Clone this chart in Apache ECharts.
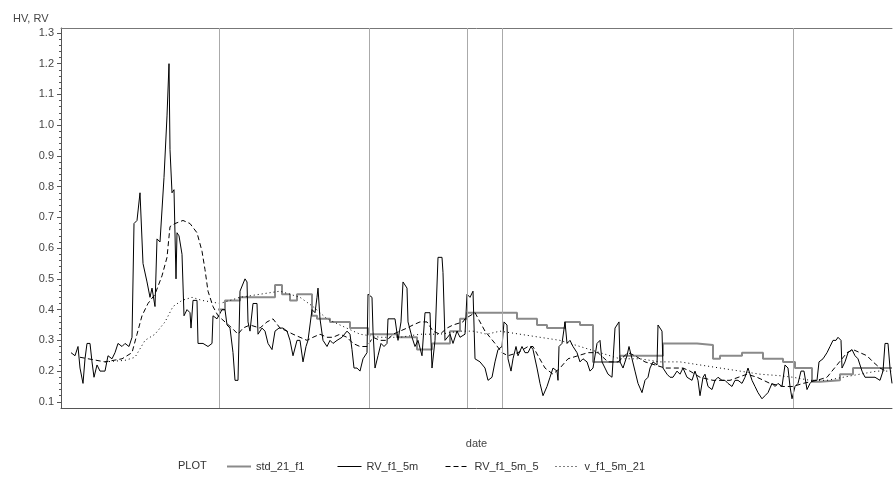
<!DOCTYPE html>
<html lang="en">
<head>
    <meta charset="UTF-8" />
    <title>HV, RV</title>
    <script src="https://cdn.jsdelivr.net/npm/echarts@6/dist/echarts.min.js"></script>
</head>
<body style="margin:0">
    <div id="main" style="width:893px;height:482px;"></div>
    <script type="text/javascript">
        // x = trading day index, y = volatility
        var rvDay = [10, 14, 17, 19, 22, 24, 26, 29, 31, 33, 36, 39, 44, 47, 51, 54, 57, 61, 64, 68, 71, 73, 76, 79, 81, 82, 86, 89, 91, 94, 96, 99, 101, 103, 106, 107, 108, 109, 111, 113, 115, 116, 118, 121, 123, 126, 129, 130, 132, 136, 137, 142, 147, 151, 152, 156, 161, 164, 166, 169, 172, 174, 177, 179, 184, 186, 187, 189, 192, 196, 197, 201, 204, 207, 211, 214, 218, 222, 226, 229, 232, 236, 239, 242, 245, 247, 251, 254, 256, 257, 259, 262, 266, 269, 272, 276, 281, 286, 289, 291, 293, 296, 299, 302, 306, 307, 311, 312, 314, 317, 320, 323, 326, 327, 331, 334, 337, 340, 342, 346, 347, 351, 354, 357, 361, 364, 369, 371, 374, 377, 381, 382, 384, 389, 392, 396, 399, 404, 406, 409, 412, 414, 419, 424, 427, 431, 434, 437, 441, 443, 446, 447, 450, 452, 455, 457, 461, 464, 467, 470, 472, 476, 479, 482, 486, 489, 492, 496, 497, 498, 501, 504, 506, 509, 512, 516, 519, 522, 526, 529, 532, 536, 539, 541, 544, 547, 551, 554, 558, 559, 562, 566, 568, 571, 574, 577, 581, 584, 587, 589, 592, 596, 597, 601, 602, 606, 609, 612, 616, 619, 622, 626, 631, 634, 637, 639, 642, 644, 647, 651, 654, 657, 661, 664, 667, 671, 674, 677, 681, 684, 687, 691, 694, 697, 701, 704, 707, 711, 714, 717, 721, 724, 727, 729, 731, 734, 737, 740, 743, 746, 749, 752, 756, 758, 762, 766, 769, 772, 775, 777, 780, 781, 784, 787, 791, 794, 797, 801, 804, 807, 811, 814, 819, 822, 824, 827, 829, 831];
        var rvVal = [0.26, 0.25, 0.28, 0.21, 0.16, 0.24, 0.29, 0.29, 0.23, 0.18, 0.22, 0.20, 0.20, 0.25, 0.24, 0.26, 0.29, 0.28, 0.29, 0.28, 0.31, 0.68, 0.69, 0.78, 0.78, 0.55, 0.49, 0.44, 0.47, 0.41, 0.63, 0.62, 0.62, 0.83, 1.03, 1.03, 1.20, 0.92, 0.78, 0.79, 0.50, 0.65, 0.64, 0.58, 0.38, 0.40, 0.39, 0.34, 0.43, 0.43, 0.29, 0.29, 0.28, 0.29, 0.38, 0.37, 0.40, 0.40, 0.35, 0.34, 0.26, 0.17, 0.17, 0.46, 0.50, 0.49, 0.36, 0.33, 0.42, 0.42, 0.32, 0.34, 0.33, 0.29, 0.27, 0.33, 0.34, 0.34, 0.33, 0.30, 0.25, 0.30, 0.30, 0.23, 0.28, 0.30, 0.40, 0.39, 0.44, 0.47, 0.37, 0.30, 0.28, 0.30, 0.29, 0.30, 0.31, 0.33, 0.32, 0.27, 0.21, 0.21, 0.20, 0.24, 0.26, 0.45, 0.44, 0.33, 0.21, 0.25, 0.29, 0.28, 0.29, 0.37, 0.37, 0.37, 0.30, 0.36, 0.49, 0.47, 0.36, 0.31, 0.28, 0.30, 0.25, 0.39, 0.39, 0.21, 0.30, 0.57, 0.57, 0.52, 0.30, 0.32, 0.29, 0.33, 0.31, 0.32, 0.45, 0.44, 0.46, 0.24, 0.23, 0.21, 0.17, 0.18, 0.23, 0.27, 0.28, 0.36, 0.35, 0.24, 0.20, 0.24, 0.28, 0.25, 0.28, 0.26, 0.26, 0.28, 0.27, 0.21, 0.16, 0.12, 0.15, 0.18, 0.21, 0.20, 0.17, 0.28, 0.29, 0.36, 0.29, 0.30, 0.28, 0.26, 0.23, 0.24, 0.23, 0.20, 0.21, 0.29, 0.30, 0.23, 0.21, 0.19, 0.18, 0.34, 0.36, 0.23, 0.21, 0.25, 0.28, 0.24, 0.20, 0.16, 0.13, 0.17, 0.18, 0.21, 0.23, 0.22, 0.35, 0.33, 0.21, 0.19, 0.18, 0.18, 0.20, 0.19, 0.21, 0.18, 0.17, 0.20, 0.17, 0.12, 0.18, 0.19, 0.15, 0.14, 0.17, 0.18, 0.17, 0.17, 0.16, 0.15, 0.17, 0.17, 0.16, 0.18, 0.21, 0.17, 0.15, 0.13, 0.11, 0.12, 0.13, 0.16, 0.15, 0.16, 0.15, 0.22, 0.21, 0.15, 0.11, 0.15, 0.16, 0.20, 0.20, 0.14, 0.16, 0.17, 0.17, 0.23, 0.24, 0.26, 0.28, 0.30, 0.30, 0.31, 0.30, 0.21, 0.23, 0.26, 0.27, 0.25, 0.24, 0.20, 0.18, 0.18, 0.18, 0.18, 0.17, 0.20, 0.29, 0.29, 0.21, 0.16];

        var rv5Day = [19, 44, 61, 71, 76, 81, 87, 94, 101, 106, 109, 114, 122, 129, 136, 141, 144, 147, 152, 157, 164, 171, 177, 182, 189, 199, 206, 212, 219, 226, 232, 239, 246, 252, 259, 266, 272, 279, 286, 292, 299, 306, 312, 319, 326, 332, 339, 346, 352, 359, 366, 372, 379, 386, 392, 402, 404, 414, 424, 434, 441, 447, 457, 467, 472, 477, 484, 492, 499, 507, 517, 527, 537, 547, 557, 567, 574, 584, 594, 604, 614, 622, 629, 639, 652, 669, 686, 696, 709, 722, 732, 742, 756, 766, 776, 786, 792, 799, 806, 812, 819, 825];
        var rv5Val = [0.245, 0.23, 0.24, 0.26, 0.32, 0.38, 0.42, 0.45, 0.51, 0.57, 0.67, 0.68, 0.69, 0.68, 0.65, 0.59, 0.53, 0.46, 0.41, 0.38, 0.36, 0.34, 0.32, 0.34, 0.35, 0.34, 0.36, 0.37, 0.34, 0.33, 0.32, 0.31, 0.30, 0.31, 0.32, 0.31, 0.31, 0.32, 0.31, 0.29, 0.28, 0.28, 0.31, 0.30, 0.30, 0.32, 0.33, 0.34, 0.35, 0.36, 0.36, 0.33, 0.32, 0.34, 0.35, 0.36, 0.37, 0.39, 0.33, 0.29, 0.26, 0.25, 0.26, 0.28, 0.28, 0.25, 0.21, 0.19, 0.21, 0.24, 0.25, 0.26, 0.26, 0.23, 0.23, 0.26, 0.25, 0.23, 0.22, 0.21, 0.21, 0.21, 0.20, 0.18, 0.17, 0.17, 0.19, 0.18, 0.16, 0.15, 0.15, 0.16, 0.17, 0.18, 0.22, 0.26, 0.27, 0.26, 0.25, 0.23, 0.21, 0.20];

        var rv21Day = [44, 64, 74, 84, 94, 104, 112, 121, 131, 141, 159, 179, 199, 219, 239, 252, 266, 279, 299, 319, 339, 359, 379, 399, 412, 426, 439, 459, 479, 499, 519, 539, 559, 579, 599, 619, 639, 659, 679, 699, 719, 732, 749, 766, 782, 799, 816, 831];
        var rv21Val = [0.23, 0.235, 0.245, 0.30, 0.32, 0.36, 0.41, 0.43, 0.44, 0.43, 0.42, 0.44, 0.45, 0.46, 0.44, 0.41, 0.37, 0.35, 0.32, 0.31, 0.31, 0.32, 0.32, 0.33, 0.33, 0.32, 0.33, 0.32, 0.31, 0.30, 0.28, 0.26, 0.24, 0.24, 0.23, 0.23, 0.22, 0.21, 0.20, 0.19, 0.185, 0.18, 0.17, 0.17, 0.18, 0.19, 0.20, 0.20];

        var stdDay = [157, 164, 179, 214, 221, 229, 236, 251, 256, 269, 289, 307, 336, 356, 371, 389, 399, 406, 456, 476, 486, 504, 519, 532, 559, 602, 636, 652, 659, 681, 702, 722, 734, 751, 759, 779, 792, 831];
        var stdVal = [0.40, 0.43, 0.44, 0.48, 0.45, 0.43, 0.45, 0.38, 0.37, 0.36, 0.34, 0.32, 0.31, 0.27, 0.29, 0.33, 0.37, 0.39, 0.37, 0.35, 0.34, 0.36, 0.35, 0.23, 0.25, 0.29, 0.285, 0.24, 0.25, 0.26, 0.24, 0.23, 0.21, 0.165, 0.17, 0.19, 0.21, 0.21];

        var refDays = [158, 308, 406, 441, 732]; // vertical reference lines
        var yTicks = [0.1, 0.2, 0.3, 0.4, 0.5, 0.6, 0.7, 0.8, 0.9, 1.0, 1.1, 1.2, 1.3];
        var names = ['std_21_f1', 'RV_f1_5m', 'RV_f1_5m_5', 'v_f1_5m_21'];

        function pairs(xs, ys) {
            var out = [];
            for (var i = 0; i < xs.length; i++) out.push([xs[i], ys[i]]);
            return out;
        }
        var minorTicks = [];
        for (var k = 5; k <= 65; k++) minorTicks.push(+(k * 0.02).toFixed(2));

        var font = 'Liberation Sans, Arial, sans-serif';
        var chart = echarts.init(document.getElementById('main'));
        var legendX = [226, 337, 445, 555];
        var legendW = [2, 1, 1, 1];
        var legends = [];
        for (var j = 0; j < names.length; j++) {
            legends.push({
                data: [names[j]],
                left: legendX[j],
                top: 461,
                padding: 0,
                itemWidth: 24,
                itemHeight: 10,
                itemGap: 5,
                selectedMode: false,
                itemStyle: { opacity: 0 }, // hide the symbol, keep the line
                lineStyle: { width: legendW[j] },
                textStyle: { fontFamily: font, fontSize: 11, color: '#333' }
            });
        }

        var option = {
            animation: false,
            title: {
                text: 'HV, RV',
                left: 8,
                top: 8,
                textStyle: { fontFamily: font, fontSize: 11, fontWeight: 'normal', color: '#444' }
            },
            graphic: [{
                type: 'text',
                left: 178,
                top: 460,
                style: { text: 'PLOT', font: '11px ' + font, fill: '#333' }
            }],
            legend: legends,
            grid: { left: 61, right: 1, top: 28, bottom: 74, containLabel: false },
            xAxis: [{
                type: 'value',
                min: 0,
                max: 831,
                name: 'date',
                nameLocation: 'middle',
                nameGap: 30,
                nameTextStyle: { fontFamily: font, fontSize: 11, color: '#444' },
                axisLine: { lineStyle: { color: '#555' } },
                axisTick: { show: false },
                axisLabel: { show: false },
                splitLine: { show: false }
            }, {
                type: 'value',
                position: 'top',
                min: 0,
                max: 831,
                axisLine: { show: true, lineStyle: { color: '#777' } },
                axisTick: { show: false },
                axisLabel: { show: false },
                splitLine: { show: false }
            }],
            yAxis: [{
                type: 'value',
                min: 0.08,
                max: 1.316,
                axisLine: { show: true, lineStyle: { color: '#555' } },
                axisTick: { show: true, customValues: yTicks, length: 4, lineStyle: { color: '#555' } },
                axisLabel: {
                    customValues: yTicks,
                    margin: 7,
                    fontFamily: font,
                    fontSize: 11,
                    color: '#444',
                    formatter: function (v) { return v.toFixed(1); }
                },
                splitLine: { show: false }
            }, {
                type: 'value',
                position: 'left',
                min: 0.08,
                max: 1.316,
                axisLine: { show: false },
                axisTick: { show: true, customValues: minorTicks, length: 2, lineStyle: { color: '#555' } },
                axisLabel: { show: false },
                splitLine: { show: false }
            }],
            series: [{
                name: names[0],
                type: 'line',
                step: 'end',
                symbol: 'none',
                data: pairs(stdDay, stdVal),
                lineStyle: { color: '#8a8a8a', width: 2 },
                itemStyle: { color: '#8a8a8a' },
                markLine: {
                    silent: true,
                    symbol: 'none',
                    label: { show: false },
                    lineStyle: { color: '#aaa', width: 1, type: 'solid' },
                    data: refDays.map(function (d) { return { xAxis: d }; })
                }
            }, {
                name: names[1],
                type: 'line',
                symbol: 'none',
                data: pairs(rvDay, rvVal),
                lineStyle: { color: '#000', width: 1 },
                itemStyle: { color: '#000' }
            }, {
                name: names[2],
                type: 'line',
                symbol: 'none',
                data: pairs(rv5Day, rv5Val),
                lineStyle: { color: '#000', width: 1, type: [5, 3] },
                itemStyle: { color: '#000' }
            }, {
                name: names[3],
                type: 'line',
                symbol: 'none',
                data: pairs(rv21Day, rv21Val),
                lineStyle: { color: '#000', width: 1, type: [1, 3] },
                itemStyle: { color: '#000' }
            }]
        };

        chart.setOption(option);
    </script>
</body>
</html>
